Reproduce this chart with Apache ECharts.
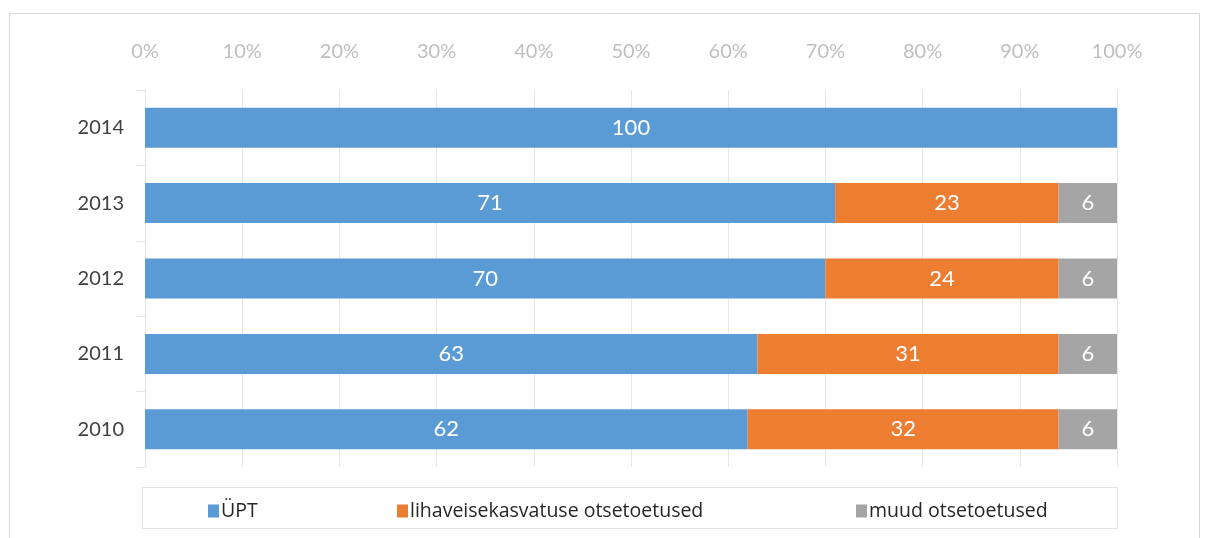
<!DOCTYPE html>
<html lang="et">
<head>
    <meta charset="UTF-8">
    <title>Otsetoetused</title>
    <style>
        html, body { margin: 0; padding: 0; background: #fff; }
        #chart { width: 1211px; height: 538px; }
    </style>
</head>
<body>
    <div id="chart"></div>
<script src="https://cdn.jsdelivr.net/npm/echarts@6/dist/echarts.min.js"></script>
<script type="text/javascript">
    const years = ['2010', '2011', '2012', '2013', '2014'];
    const upt = [62, 63, 70, 71, 100];
    const lihaveis = [32, 31, 24, 23, 0];
    const muud = [6, 6, 6, 6, 0];
    const names = ['ÜPT', 'lihaveisekasvatuse otsetoetused', 'muud otsetoetused'];
    const colors = ['#5b9bd5', '#ed7d31', '#a5a5a5'];

    const font = 'Lato, "Open Sans", sans-serif';
    const chart = echarts.init(document.getElementById('chart'));

    function bar(name, data, color) {
        return {
            name: name,
            type: 'bar',
            stack: 'total',
            barWidth: 40,
            data: data.map(v => v === 0 ? null : v),
            itemStyle: { color: color },
            label: {
                show: true,
                color: '#fff',
                fontFamily: font,
                fontSize: 22
            }
        };
    }

    function legend(i, left) {
        return {
            data: [names[i]],
            left: left,
            top: 496,
            itemWidth: 11,
            itemHeight: 13,
            icon: 'rect',
            itemGap: 0,
            textStyle: { color: '#262626', fontFamily: '"Open Sans", sans-serif', fontSize: 19.5, padding: [0, 0, 0, -3] }
        };
    }

    chart.setOption({
        animation: false,
        graphic: [
            { type: 'rect', shape: { x: 9.5, y: 13.5, width: 1190, height: 540 }, style: { fill: 'none', stroke: '#d9d9d9' }, silent: true },
            { type: 'rect', shape: { x: 142.5, y: 487.5, width: 975, height: 41 }, style: { fill: 'none', stroke: '#e4e4e4' }, silent: true }
        ],
        legend: [legend(0, 203), legend(1, 392), legend(2, 851)],
        grid: { left: 145, right: 94, top: 90, bottom: 71 },
        xAxis: {
            type: 'value',
            position: 'top',
            min: 0,
            max: 100,
            interval: 10,
            axisLabel: { formatter: '{value}%', color: '#bfbfbf', fontFamily: font, fontSize: 20, margin: 28 },
            axisLine: { show: false },
            axisTick: { show: false },
            splitLine: { lineStyle: { color: '#e6e6e6' } }
        },
        yAxis: {
            type: 'category',
            data: years,
            axisLine: { lineStyle: { color: '#e6e6e6' } },
            axisTick: { show: true, length: 9, lineStyle: { color: '#e6e6e6' } },
            axisLabel: { color: '#404040', fontFamily: font, fontSize: 20, margin: 21 }
        },
        series: [
            bar(names[0], upt, colors[0]),
            bar(names[1], lihaveis, colors[1]),
            bar(names[2], muud, colors[2])
        ]
    });
</script>
</body>
</html>
